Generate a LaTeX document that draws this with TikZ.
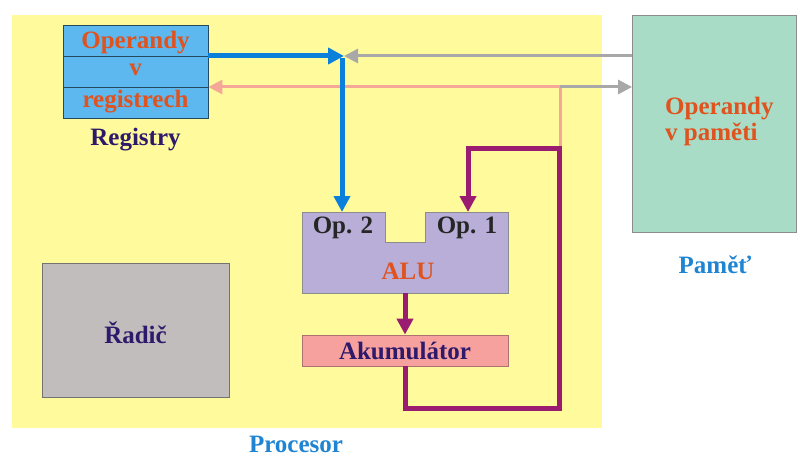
\documentclass[tikz,border=0pt]{standalone}
\usepackage{fontspec}
\setmainfont{Liberation Serif}
\usetikzlibrary{arrows.meta}
\definecolor{bgyellow}{HTML}{FFFB9C}
\definecolor{regblue}{HTML}{5CB8EE}
\definecolor{txtred}{HTML}{E0521E}
\definecolor{txtdark}{HTML}{2E1A6B}
\definecolor{arrblue}{HTML}{0A80DA}
\definecolor{arrgray}{HTML}{A8A8A8}
\definecolor{arrpink}{HTML}{F6A898}
\definecolor{arrpurple}{HTML}{9A1C70}
\definecolor{alufill}{HTML}{B8AED8}
\definecolor{accfill}{HTML}{F7A19E}
\definecolor{memfill}{HTML}{A8DCC6}
\definecolor{radfill}{HTML}{C1BDBC}
\definecolor{labblue}{HTML}{1F84D2}
\tikzset{
  txt/.style={font=\fontsize{25}{26}\selectfont\bfseries, inner sep=0pt},
  boxshape/.style={rectangle, inner sep=0pt, draw=#1, line width=0.8pt},
  bluearr/.style={arrblue, line width=5pt, -{Triangle[length=16pt,width=16pt]}},
  grayarr/.style={arrgray, line width=3pt, -{Triangle[length=14pt,width=14pt]}},
  pinkarr/.style={arrpink, line width=3pt, -{Triangle[length=14pt,width=14pt]}},
  pinkline/.style={arrpink, line width=3pt},
  purparr/.style={arrpurple, line width=5pt, line join=miter, -{Triangle[length=16pt,width=16pt]}},
}
\begin{document}
\begin{tikzpicture}[x=1pt,y=-1pt]
\useasboundingbox (0,0) rectangle (797,457);
% processor background
\fill[bgyellow] (12,15) rectangle (602,428);
% registers
\node[boxshape=black!60!regblue, fill=regblue, minimum width=145pt, minimum height=93pt] (reg) at (135.5,71.5) {};
\draw[black!60!regblue, line width=0.8pt] (63,56) -- (208,56) (63,87) -- (208,87);
\node[txt, text=txtred] (r1) at (135.5,43) {Operandy};
\node[txt, text=txtred] (r2) at (135.5,70) {v};
\node[txt, text=txtred] (r3) at (135.5,102) {registrech};
\node[txt, text=txtdark] (regl) at (135.5,140) {Registry};
% memory
\node[boxshape=black!45, fill=memfill, minimum width=164pt, minimum height=217pt] (mem) at (714.5,123.5) {};
\node[txt, text=txtred, align=left, anchor=west] (memt) at (665,121) {Operandy\\v paměti};
\node[txt, text=labblue] (meml) at (715,265) {Paměť};
% controller
\node[boxshape=black!40!radfill, fill=radfill, minimum width=187pt, minimum height=134pt] (rad) at (135.5,330) {};
\node[txt, text=txtdark] (radt) at (135.5,333) {Řadič};
% ALU
\draw[black!45, fill=alufill, line width=0.8pt] (302,212) -- (385,212) -- (385,242) -- (425,242) -- (425,212) -- (508,212) -- (508,293) -- (302,293) -- cycle;
\node[txt, text=black!85] (op2) at (343,228) {Op. 2};
\node[txt, text=black!85] (op1) at (467,228) {Op. 1};
\node[txt, text=txtred] (alut) at (408,271) {ALU};
\coordinate (o2) at (342,212);
\coordinate (o1) at (468,212);
\coordinate (alub) at (405,293);
% accumulator
\node[boxshape=black!30!accfill, fill=accfill, minimum width=206pt, minimum height=31pt] (acc) at (405,350.5) {};
\node[txt, text=txtdark] (acct) at (405,351) {Akumulátor};
% junctions
\coordinate (j) at (342,56);
\coordinate (p) at (560,87);
\coordinate (q) at (560,149);
% connectors
\draw[grayarr] (mem.west |- j) -- ([xshift=2pt]j);
\draw[pinkline] (q) -- (p);
\draw[pinkarr] (p) -- (p -| reg.east);
\draw[grayarr] (p) -- (p -| mem.west);
\draw[bluearr] (j -| reg.east) -- ([xshift=2pt]j);
\draw[bluearr] ([yshift=-2.5pt]j) -- (o2);
\draw[purparr] (alub) -- (acc.north);
\draw[purparr] (acc.south) -- (405,408) -- (559,408) -- (559,149) -- (468,149) -- (o1);
\node[txt, text=labblue] (procl) at (296,444) {Procesor};
\end{tikzpicture}
\end{document}
